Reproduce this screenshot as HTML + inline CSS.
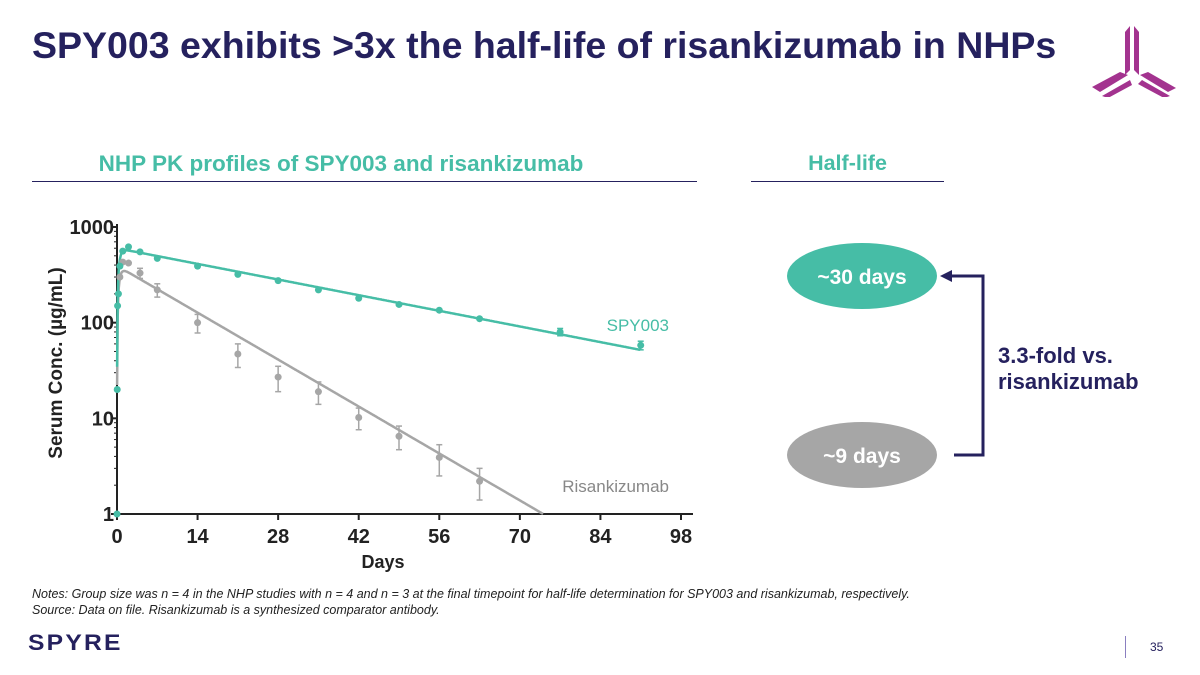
<!DOCTYPE html>
<html><head><meta charset="utf-8"><style>
body{margin:0;width:1200px;height:675px;background:#fff;font-family:"Liberation Sans",Arial,sans-serif;overflow:hidden;position:relative}
.abs{position:absolute}
</style></head><body>
<div class="abs" style="left:32px;top:24px;font-size:37.5px;font-weight:bold;color:#25215e;white-space:nowrap">SPY003 exhibits &gt;3x the half-life of risankizumab in NHPs</div>
<svg class="abs" style="left:1090px;top:22px" width="100" height="75" viewBox="0 0 100 75">
<g fill="#a3338f"><polygon points="35,10 40,4 40,48 35,53"/><polygon points="44,4 49,10 49,53 44,48"/>
<polygon points="2,65 30,50 38,53 10,70"/><polygon points="12,74 40,58 42,63 18,76"/>
<polygon points="52,58 80,74 74,76 48,62"/><polygon points="50,53 58,50 86,66 78,70"/></g></svg>
<div class="abs" style="left:0px;top:151px;width:682px;text-align:center;font-size:22.5px;font-weight:bold;color:#46bda6">NHP PK profiles of SPY003 and risankizumab</div>
<div class="abs" style="left:32px;top:181px;width:665px;height:1px;background:#25215e"></div>
<div class="abs" style="left:751px;top:151px;width:193px;text-align:center;font-size:21.5px;font-weight:bold;color:#46bda6">Half-life</div>
<div class="abs" style="left:751px;top:181px;width:193px;height:1px;background:#25215e"></div>

<svg class="abs" id="chart" style="left:0;top:0" width="720" height="590"></svg>

<svg class="abs" style="left:780px;top:230px" width="420" height="270">
<ellipse cx="82" cy="46" rx="75" ry="33" fill="#46bda6"/>
<text x="82" y="54" text-anchor="middle" font-size="21" font-weight="bold" fill="#fff" font-family="Liberation Sans">~30 days</text>
<ellipse cx="82" cy="225" rx="75" ry="33" fill="#a6a6a6"/>
<text x="82" y="233" text-anchor="middle" font-size="21" font-weight="bold" fill="#fff" font-family="Liberation Sans">~9 days</text>
<polyline points="174,225 203,225 203,46 170,46" fill="none" stroke="#25215e" stroke-width="3"/>
<polygon points="160,46 172,40 172,52" fill="#25215e"/>
<text x="218" y="133" font-size="22" font-weight="bold" fill="#25215e" font-family="Liberation Sans">3.3-fold vs.</text>
<text x="218" y="159" font-size="22" font-weight="bold" fill="#25215e" font-family="Liberation Sans">risankizumab</text>
</svg>

<div class="abs" style="left:32px;top:586px;font-size:12.5px;font-style:italic;color:#222;line-height:16px;white-space:nowrap">Notes: Group size was n = 4 in the NHP studies with n = 4 and n = 3 at the final timepoint for half-life determination for SPY003 and risankizumab, respectively.<br>Source: Data on file. Risankizumab is a synthesized comparator antibody.</div>
<div class="abs" style="left:28px;top:630px;font-size:22px;font-weight:bold;color:#25215e;letter-spacing:2px;transform:scaleX(1.12);transform-origin:left">SPYRE</div>
<div class="abs" style="left:1125px;top:636px;width:1px;height:22px;background:#8a7fc0"></div>
<div class="abs" style="left:1150px;top:640px;font-size:12px;color:#25215e">35</div>

<script>
const days = [0,0.04,0.1,0.25,0.5,1,2,4,7,14,21,28,35,42,49,56,63,77,91];
const spyValues = [1,20,150,200,390,560,620,550,470,390,320,275,220,180,155,135,110,80,58];
const spyErr = [0,0,0,0,0,0,0,0,0,0,0,0,0,0,0,0,0,7,6];
const risDays = [0.5,1,2,4,7,14,21,28,35,42,49,56,63];
const risValues = [300,430,420,330,220,100,47,27,19,10.2,6.5,3.9,2.2];
const risErr = [0,0,0,40,35,22,13,8,5,2.6,1.8,1.4,0.8];
const spyFit = [600,0.0269,3];
const risFit = [394,0.0807,3];
const xTicks = [0,14,28,42,56,70,84,98];
const yTicks = [1,10,100,1000];

const svg=document.getElementById('chart');
const NS='http://www.w3.org/2000/svg';
const X0=117,X1=681,Y1=227,Y0=514;
const xs=d=>X0+d/98*(X1-X0);
const ys=v=>Y0-Math.log10(v)/3*(Y0-Y1);
function mk(t,a){const e=document.createElementNS(NS,t);for(const k in a)e.setAttribute(k,a[k]);svg.appendChild(e);return e;}
let e;
e=mk('line',{x1:X0,y1:Y1-3,x2:X0,y2:Y0,stroke:'#222','stroke-width':2});


e=mk('line',{x1:X0,y1:Y0,x2:X1+12,y2:Y0,stroke:'#222','stroke-width':2});


xTicks.forEach(t=>{mk('line',{x1:xs(t),y1:Y0,x2:xs(t),y2:Y0+6,stroke:'#222','stroke-width':2});
 e=mk('text',{x:xs(t),y:Y0+29,'text-anchor':'middle','font-size':20,'font-weight':'bold',fill:'#222','font-family':'Liberation Sans'});e.textContent=t;
 
 });
for(let dec=0;dec<3;dec++)for(let m=2;m<=9;m++){const v=m*Math.pow(10,dec);mk('line',{x1:X0-3,y1:ys(v),x2:X0,y2:ys(v),stroke:'#222','stroke-width':1});}
yTicks.forEach(t=>{mk('line',{x1:X0-6,y1:ys(t),x2:X0,y2:ys(t),stroke:'#222','stroke-width':2});
 e=mk('text',{x:X0-3,y:ys(t)+7,'text-anchor':'end','font-size':20,'font-weight':'bold',fill:'#222','font-family':'Liberation Sans'});e.textContent=t;
 
 });
e=mk('text',{x:383,y:568,'text-anchor':'middle','font-size':18,'font-weight':'bold',fill:'#222','font-family':'Liberation Sans'});e.textContent='Days';


e=mk('text',{x:0,y:0,transform:'translate(62,363) rotate(-90)','text-anchor':'middle','font-size':19,'font-weight':'bold',fill:'#222','font-family':'Liberation Sans'});e.textContent='Serum Conc. (µg/mL)';


function fitPath(p,tmax){let d='';for(let t=0.02;t<=tmax;t+=0.1){const v=p[0]*(Math.exp(-p[1]*t)-Math.exp(-p[2]*t));if(v<1)break;d+=(d?'L':'M')+xs(t).toFixed(1)+','+ys(v).toFixed(1);}return d;}
e=mk('path',{d:fitPath(risFit,98),fill:'none',stroke:'#a6a6a6','stroke-width':2.5});


e=mk('path',{d:fitPath(spyFit,91),fill:'none',stroke:'#46bda6','stroke-width':2.5});


function pts(dd,vv,ee,c,name){dd.forEach((d,i)=>{const v=vv[i],er=ee[i];
 if(er>0){const a=ys(v+er),b=ys(Math.max(v-er,0.5));mk('line',{x1:xs(d),y1:a,x2:xs(d),y2:b,stroke:c,'stroke-width':1.5});
  mk('line',{x1:xs(d)-3,y1:a,x2:xs(d)+3,y2:a,stroke:c,'stroke-width':1.5});mk('line',{x1:xs(d)-3,y1:b,x2:xs(d)+3,y2:b,stroke:c,'stroke-width':1.5});}
 e=mk('circle',{cx:xs(d),cy:ys(v),r:3.5,fill:c});
 
 });}
pts(risDays,risValues,risErr,'#a6a6a6','risankizumab-point');
pts(days,spyValues,spyErr,'#46bda6','spy003-point');
e=mk('text',{x:669,y:331,'text-anchor':'end','font-size':17,fill:'#46bda6','font-family':'Liberation Sans'});e.textContent='SPY003';


e=mk('text',{x:669,y:492,'text-anchor':'end','font-size':17,fill:'#888','font-family':'Liberation Sans'});e.textContent='Risankizumab';


</script>
</body></html>
